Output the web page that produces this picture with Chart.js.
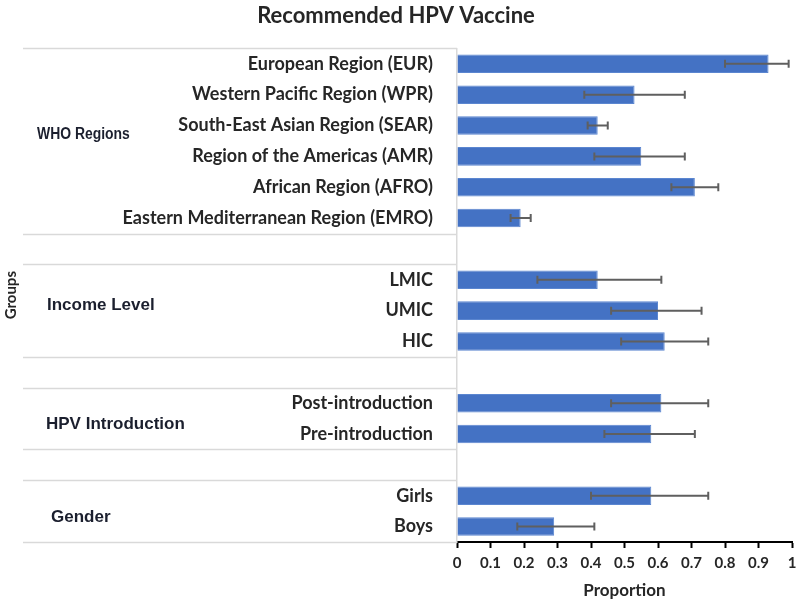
<!DOCTYPE html>
<html>
<head>
<meta charset="utf-8">
<script src="https://cdn.jsdelivr.net/npm/chart.js@4"></script>
<style>
  html, body { margin: 0; padding: 0; background: #fff; }
  #wrap { width: 800px; height: 602px; }
</style>
</head>
<body>
<div id="wrap"><canvas id="myChart"></canvas></div>
<script>
// rows of the chart, blanks are the spacer rows between groups
const categories = ['European Region (EUR)', 'Western Pacific Region (WPR)', 'South-East Asian Region (SEAR)',
  'Region of the Americas (AMR)', 'African Region (AFRO)', 'Eastern Mediterranean Region (EMRO)', '',
  'LMIC', 'UMIC', 'HIC', '', 'Post-introduction', 'Pre-introduction', '', 'Girls', 'Boys'];
const proportion = [0.93, 0.53, 0.42, 0.55, 0.71, 0.19, null, 0.42, 0.60, 0.62, null, 0.61, 0.58, null, 0.58, 0.29];
const lower = [0.80, 0.38, 0.39, 0.41, 0.64, 0.16, null, 0.24, 0.46, 0.49, null, 0.46, 0.44, null, 0.40, 0.18];
const upper = [0.99, 0.68, 0.45, 0.68, 0.78, 0.22, null, 0.61, 0.73, 0.75, null, 0.75, 0.71, null, 0.75, 0.41];

const groupNames = ['WHO Regions', 'Income Level', 'HPV Introduction', 'Gender'];
const groupFirst = [0, 7, 11, 14];
const groupLast = [5, 9, 12, 15];

const ctx = document.getElementById('myChart');

// draws the error bars from lower/upper
const errorBars = {
  id: 'errorBars',
  afterDatasetsDraw(chart) {
    const x = chart.scales.x, y = chart.scales.y, c = chart.ctx;
    c.save();
    c.strokeStyle = '#5f5f5f';
    c.lineWidth = 2;
    for (let i = 0; i < categories.length; i++) {
      if (lower[i] == null) continue;
      const py = y.getPixelForValue(i);
      const x1 = x.getPixelForValue(lower[i]);
      const x2 = x.getPixelForValue(upper[i]);
      c.beginPath();
      c.moveTo(x1, py); c.lineTo(x2, py);
      c.moveTo(x1, py - 4); c.lineTo(x1, py + 4);
      c.moveTo(x2, py - 4); c.lineTo(x2, py + 4);
      c.stroke();
    }
    c.restore();
  }
};

// group boxes + group names on the left, like excel's multi level axis
const groupAxis = {
  id: 'groupAxis',
  afterDraw(chart, args, opts) {
    const y = chart.scales.y, c = chart.ctx;
    const left = chart.chartArea.left;
    c.save();
    c.strokeStyle = '#d9d9d9';
    c.lineWidth = 1.5;
    for (let g = 0; g < groupNames.length; g++) {
      [groupFirst[g] - 0.5, groupLast[g] + 0.5].forEach(v => {
        const py = Math.round(y.getPixelForValue(v)) + 0.5;
        c.beginPath();
        c.moveTo(opts.lineStart, py);
        c.lineTo(left, py);
        c.stroke();
      });
    }
    c.fillStyle = '#1b1f2e';
    c.textBaseline = 'middle';
    c.textAlign = 'left';
    for (let g = 0; g < groupNames.length; g++) {
      const mid = (y.getPixelForValue(groupFirst[g]) + y.getPixelForValue(groupLast[g])) / 2;
      c.save();
      c.translate(opts.xs[g], mid + opts.dy[g]);
      c.scale(opts.squeeze[g], 1);   // first label is in a narrow font in the original
      c.font = opts.fonts[g];
      c.fillText(groupNames[g], 0, 0);
      c.restore();
    }
    c.restore();
  }
};

const cfg = {
  type: 'bar',
  data: {
    labels: categories,
    datasets: [{
      data: proportion,
      backgroundColor: '#4472c4',
      borderColor: '#5b86d0',
      borderWidth: 1,
      barPercentage: 0.6,
      categoryPercentage: 1
    }]
  },
  options: {
    indexAxis: 'y',
    responsive: true,
    maintainAspectRatio: false,
    animation: false,
    layout: { padding: { left: 0, right: 8, top: 0, bottom: 0 } },
    plugins: {
      legend: { display: false },
      tooltip: { enabled: false },
      title: {
        display: true,
        text: 'Recommended HPV Vaccine',
        color: '#262626',
        font: { family: 'Lato', size: 22, weight: 'bold' },
        padding: { top: 3, bottom: 19 }
      },
      groupAxis: {
        lineStart: 23,
        xs: [37, 47, 46, 51],
        dy: [-6, -5, 6, 6],
        squeeze: [0.87, 1, 1, 1],
        fonts: ['bold 16px "Liberation Sans"', 'bold 17px "Liberation Sans"',
          'bold 17px "Liberation Sans"', 'bold 17px "Liberation Sans"']
      }
    },
    scales: {
      x: {
        min: 0,
        max: 1,
        ticks: {
          stepSize: 0.1,
          color: '#262626',
          padding: 6,
          font: { family: 'Lato', size: 15, weight: 'bold' },
          callback: v => String(Math.round(v * 10) / 10)
        },
        grid: { drawOnChartArea: false, color: '#000', tickLength: 6, tickWidth: 2 },
        border: { color: '#000', width: 2 },
        title: {
          display: true,
          text: 'Proportion',
          color: '#262626',
          font: { family: 'Lato', size: 17, weight: 'bold' },
          padding: { top: 0, bottom: 1 }
        },
        afterFit(scale) {
          scale.height = 60;
          scale.paddingRight = 0;
        }
      },
      y: {
        ticks: {
          color: '#262626',
          padding: 24,
          font: { family: 'Lato', size: 18, weight: 'bold' },
          autoSkip: false
        },
        grid: { display: false, drawTicks: false },
        border: { color: '#d9d9d9', width: 1.5 },
        title: {
          display: true,
          text: 'Groups',
          color: '#262626',
          font: { family: 'Lato', size: 15, weight: 'bold' },
          padding: { top: 2, bottom: 0 }
        },
        afterFit(scale) { scale.width = 457; }
      }
    }
  },
  plugins: [errorBars, groupAxis]
};

let cht = new Chart(ctx, cfg);
</script>
</body>
</html>
